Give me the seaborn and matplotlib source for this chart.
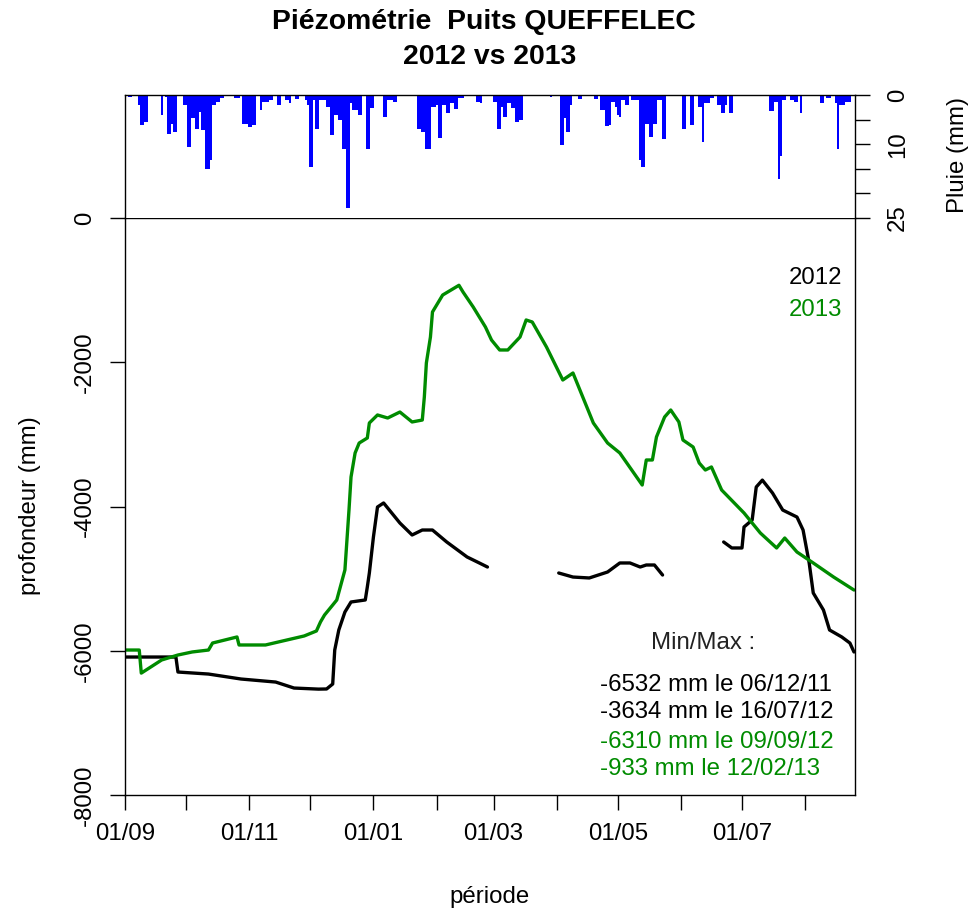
import numpy as np
import pandas as pd
import matplotlib
matplotlib.use("Agg")
import matplotlib.pyplot as plt
import seaborn as sns

# ---------------- data ----------------
month_days = [0, 30, 61, 91, 122, 153, 181, 212, 242, 273, 303, 334]
month_labels = ['01/09', '', '01/11', '', '01/01', '', '01/03', '', '01/05', '', '01/07', '']

depth_ticks = [-8000, -6000, -4000, -2000, 0]
rain_ticks = [0, 5, 10, 15, 20, 25]
rain_tick_labels = ['0', '', '10', '', '', '25']

# daily rain (day since 01/09, mm)
rain_obs = [
    (2, 0.5), (3, 0.5), (7, 2), (8, 6), (9, 6), (10, 5.4), (11, 5.4), (18, 4), (20, 0.5), (21, 8), (22, 8),
    (23, 5.8), (24, 7.5), (25, 7.5), (29, 2), (30, 2), (31, 10.5), (32, 10.5), (33, 4.7), (34, 4.7), (35, 7),
    (36, 7), (37, 3.4), (38, 7.1), (39, 7.1), (40, 15.1), (41, 15.1), (42, 13.2), (43, 2), (44, 2), (45, 1.4),
    (46, 1.4), (47, 0.7), (48, 0.7), (49, 0.3), (50, 0.3), (51, 0.3), (52, 0.3), (53, 0.3), (54, 0.7),
    (55, 0.7), (56, 0.7), (58, 5.8), (59, 5.8), (60, 5.8), (61, 6.6), (62, 6.6), (63, 6), (64, 6), (65, 0.3),
    (66, 0.3), (67, 3), (68, 1.4), (69, 1.4), (70, 1.4), (71, 1), (72, 1), (75, 2), (76, 2), (79, 1), (80, 1),
    (81, 1.7), (84, 0.9), (85, 0.9), (89, 1), (90, 2), (91, 14.6), (92, 14.6), (93, 1), (94, 7), (95, 7),
    (96, 1), (97, 1), (98, 1), (99, 2.4), (100, 2.4), (101, 8.1), (102, 8.1), (103, 4), (104, 4), (105, 5),
    (106, 5), (107, 11), (108, 11), (109, 23), (110, 23), (111, 1.7), (112, 3), (113, 3), (114, 3), (115, 4),
    (116, 4), (117, 0.3), (119, 11), (120, 11), (121, 2.7), (122, 2.7), (123, 0.3), (124, 0.3), (125, 0.3),
    (127, 4.5), (128, 4.5), (129, 1), (130, 1), (131, 1), (132, 1.4), (133, 1.4), (134, 0.3), (135, 0.3),
    (136, 0.3), (137, 0.3), (138, 0.3), (139, 0.3), (140, 0.3), (141, 0.3), (142, 0.3), (143, 0.3),
    (144, 7), (145, 7), (146, 7.5), (147, 7.5), (148, 11), (149, 11), (150, 11), (151, 2.4), (152, 2.4),
    (153, 2), (154, 8.7), (155, 8.7), (156, 2), (157, 2), (158, 3.7), (159, 3.7), (160, 1.7), (161, 1.7),
    (162, 2.9), (163, 2.9), (164, 0.7), (165, 0.7), (166, 0.7), (167, 0.3), (168, 0.3), (169, 0.3),
    (173, 1.4), (174, 1.4), (175, 1.7), (181, 1.4), (182, 1.4), (183, 7), (184, 7), (185, 2.4), (186, 4.5),
    (187, 4.5), (188, 1.7), (189, 1.7), (190, 2.7), (191, 2.7), (192, 5.4), (193, 5.4), (194, 5), (195, 5),
    (196, 0.3), (209, 0.5), (214, 10.2), (215, 10.2), (216, 4.7), (217, 7.5), (218, 7.5), (219, 2),
    (223, 0.9), (224, 0.9), (231, 0.9), (232, 0.9), (234, 3), (235, 3), (236, 6.4), (237, 6.4), (238, 6),
    (239, 1.4), (240, 1.4), (241, 2.4), (242, 4), (243, 4.5), (244, 1), (245, 1), (246, 2), (247, 2),
    (249, 1), (250, 1), (251, 1), (252, 1), (253, 13.2), (254, 14.6), (255, 14.6), (256, 5.8), (257, 5.8),
    (258, 8.5), (259, 8.5), (260, 5.8), (261, 5.8), (262, 1), (263, 1), (264, 9), (265, 9), (266, 0.3),
    (267, 0.3), (274, 7), (275, 7), (276, 0.3), (278, 6), (279, 6), (280, 0.3), (282, 2.4), (283, 2.4),
    (284, 9.5), (285, 1.7), (286, 1.7), (287, 1.7), (288, 0.7), (289, 0.7), (291, 2), (292, 2), (293, 3.7),
    (294, 3.7), (295, 2), (297, 3.7), (298, 3.7), (317, 3.2), (318, 3.2), (319, 1.4), (320, 1.4),
    (321, 17.1), (322, 12.5), (323, 1), (324, 1), (327, 1), (328, 1), (329, 1.4), (330, 1.4), (332, 3.7),
    (342, 1.7), (343, 1.7), (345, 0.7), (346, 0.7), (349, 1.7), (350, 11), (351, 2), (352, 2), (353, 2),
    (354, 1.4), (355, 1.4), (356, 1.4), (357, 0.3),
]
rain_day = [d for d, _ in rain_obs]
rain_mm = [v for _, v in rain_obs]

y2013_day = [0, 7, 8, 18, 26, 33, 41, 43, 49, 55, 56, 69, 88, 94, 96, 98, 102, 104, 108, 110, 111, 113, 115, 119,
             120, 124, 129, 135, 141, 146, 147, 148, 150, 151, 156, 164, 166, 171, 177, 180, 184, 188, 194, 197,
             200, 207, 215, 220, 230, 237, 243, 254, 256, 259, 261, 265, 268, 272, 274, 279, 282, 285, 288, 293,
             304, 312, 320, 324, 330, 338, 348, 358]
y2013_val = [-5990, -5990, -6310, -6128, -6059, -6017, -5990, -5893, -5851, -5809, -5920, -5920, -5795, -5726,
             -5601, -5504, -5366, -5296, -4880, -4049, -3591, -3258, -3120, -3050, -2842, -2731, -2773, -2690,
             -2828, -2801, -2482, -2010, -1650, -1303, -1068, -933, -1026, -1234, -1511, -1692, -1830, -1830,
             -1650, -1414, -1442, -1789, -2246, -2149, -2842, -3120, -3258, -3702, -3355, -3355, -3036, -2759,
             -2662, -2828, -3078, -3175, -3397, -3494, -3452, -3771, -4090, -4367, -4575, -4437, -4631, -4783,
             -4978, -5158]

y2012_day = [0, 25, 26, 41, 57, 74, 83, 95, 99, 102, 103, 105, 108, 111, 118, 119, 120, 122, 124, 127, 135, 141,
             146, 151, 158, 168, 174, 178,
             213, 220, 228, 237, 243, 248, 253, 256, 260, 264,
             294, 298, 303, 304, 308, 310, 313, 318, 323, 330, 333, 336, 338, 343, 346, 352, 356, 358]
y2012_val = [-6087, -6087, -6295, -6323, -6392, -6434, -6517, -6532, -6530, -6461, -5990, -5712, -5463, -5324,
             -5296, -5116, -4922, -4423, -4007, -3951, -4229, -4395, -4326, -4326, -4492, -4700, -4783, -4839,
             -4922, -4978, -4991, -4908, -4783, -4783, -4839, -4811, -4811, -4950,
             -4492, -4575, -4575, -4284, -4187, -3730, -3634, -3813, -4049, -4146, -4326, -4783, -5199, -5435,
             -5712, -5809, -5893, -6017]
y2012_seg = [0] * 28 + [1] * 10 + [2] * 18

minmax_lines = ['-6532 mm le 06/12/11', '-3634 mm le 16/07/12',
                '-6310 mm le 09/09/12', '-933 mm le 12/02/13']
series_names = ['2012', '2013']

# ---------------- style ----------------
BLACK = '#000000'
GREEN = '#008B00'
BLUE = '#0000FF'

sns.set_theme(style="ticks")
plt.rcParams['font.family'] = ['Liberation Sans', 'DejaVu Sans']
plt.rcParams['axes.edgecolor'] = 'black'
plt.rcParams['axes.linewidth'] = 1.0
plt.rcParams['text.color'] = 'black'
plt.rcParams['axes.labelcolor'] = 'black'
plt.rcParams['xtick.color'] = 'black'
plt.rcParams['ytick.color'] = 'black'

FS = 17.3

fig = plt.figure(figsize=(9.70, 9.13), dpi=100)
W, H = 970.0, 913.0
L, R = 125 / W, 855 / W
main_b, main_t = 1 - 795 / H, 1 - 218 / H
rain_t = 1 - 95 / H
XMAX = 358.5

ax = fig.add_axes([L, main_b, R - L, main_t - main_b])
ax_r = fig.add_axes([L, main_t, R - L, rain_t - main_t])

# ---- rain panel
rain_df = pd.DataFrame({'jour': rain_day, 'pluie': rain_mm})
sns.histplot(data=rain_df, x='jour', weights='pluie', discrete=True, color=BLUE,
             alpha=1, edgecolor=None, linewidth=0, ax=ax_r)
ax_r.set_xlim(0, XMAX)
ax_r.set_ylim(25, 0)
ax_r.set_xticks([])
ax_r.set_xlabel('')
ax_r.set_ylabel('')
ax_r.yaxis.tick_right()
ax_r.set_yticks(rain_ticks)
ax_r.set_yticklabels(rain_tick_labels)
ax_r.tick_params(axis='y', right=True, left=False, labelright=True, labelleft=False,
                 length=11, width=1, labelsize=FS, labelrotation=90, pad=12, colors='black')
for lbl in ax_r.get_yticklabels():
    lbl.set_va('center')
ax_r.spines['bottom'].set_visible(False)
for s in ['top', 'left', 'right']:
    ax_r.spines[s].set_visible(True)
    ax_r.spines[s].set_color('black')

# ---- main panel
df13 = pd.DataFrame({'jour': y2013_day, 'profondeur': y2013_val})
df12 = pd.DataFrame({'jour': y2012_day, 'profondeur': y2012_val, 'seg': y2012_seg})
sns.lineplot(data=df12, x='jour', y='profondeur', units='seg', estimator=None, sort=False,
             color=BLACK, lw=2.4, ax=ax)
sns.lineplot(data=df13, x='jour', y='profondeur', estimator=None, sort=False,
             color=GREEN, lw=2.4, ax=ax)
ax.set_xlim(0, XMAX)
ax.set_ylim(-8000, 0)
ax.set_xticks(month_days)
ax.set_xticklabels(month_labels)
ax.set_yticks(depth_ticks)
ax.set_yticklabels([str(v) for v in depth_ticks])
ax.set_xlabel('')
ax.set_ylabel('')
ax.tick_params(axis='x', length=11, width=1, labelsize=FS, pad=9, colors='black')
ax.tick_params(axis='y', length=11, width=1, labelsize=FS, pad=10, labelrotation=90, colors='black')
for lbl in ax.get_yticklabels():
    lbl.set_va('center')
for s in ax.spines.values():
    s.set_visible(True)
    s.set_color('black')

# legend-like texts
ax.text(0.982, 0.896, series_names[0], transform=ax.transAxes, ha='right', va='center',
        fontsize=FS, color=BLACK)
ax.text(0.982, 0.841, series_names[1], transform=ax.transAxes, ha='right', va='center',
        fontsize=FS, color=GREEN)

ax.text(0.792, 0.263, 'Min/Max :', transform=ax.transAxes, ha='center', va='center',
        fontsize=FS, color='#222222')
mm_y = [0.191, 0.144, 0.092, 0.045]
mm_c = [BLACK, BLACK, GREEN, GREEN]
for t, yy, c in zip(minmax_lines, mm_y, mm_c):
    ax.text(0.6507, yy, t, transform=ax.transAxes, ha='left', va='center', fontsize=FS, color=c)

# titles and axis labels
fig.text(484 / W, 1 - 22 / H, 'Piézométrie  Puits QUEFFELEC', ha='center', va='center',
         fontsize=FS * 1.18, fontweight='bold', color='black')
fig.text(490 / W, 1 - 57 / H, '2012 vs 2013', ha='center', va='center',
         fontsize=FS * 1.18, fontweight='bold', color='black')
fig.text(30 / W, 1 - 506 / H, 'profondeur (mm)', rotation=90, ha='center', va='center', fontsize=FS)
fig.text(490 / W, 1 - 897 / H, 'période', ha='center', va='center', fontsize=FS)
fig.text(958 / W, 1 - 155 / H, 'Pluie (mm)', rotation=90, ha='center', va='center', fontsize=FS)

fig.savefig('out.png', dpi=100, facecolor='white')
